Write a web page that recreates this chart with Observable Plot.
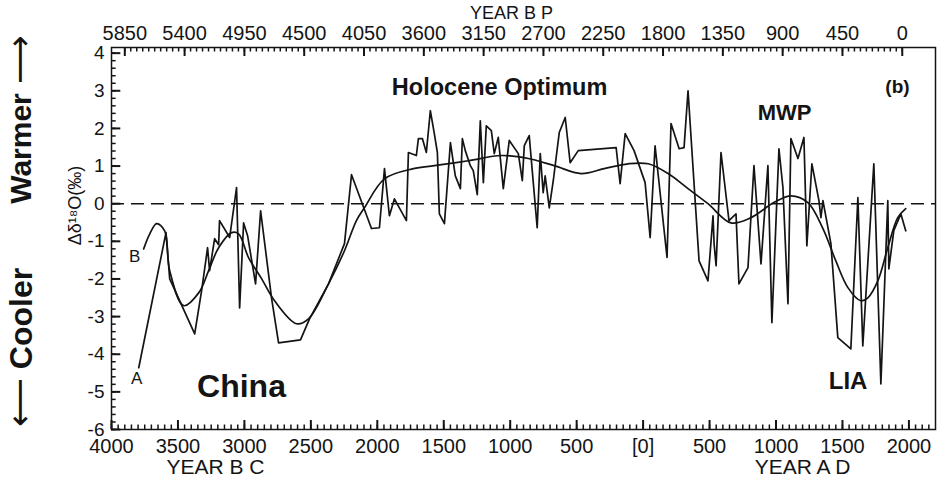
<!DOCTYPE html>
<html><head><meta charset="utf-8">
<script src="https://cdn.jsdelivr.net/npm/d3@7"></script>
<script src="https://cdn.jsdelivr.net/npm/@observablehq/plot@0.6"></script>
<style>
html,body{margin:0;padding:0;background:#fff;}
</style>
</head><body><div id="chart"></div>
<script>
// Curve A: raw record (years, negative = BC)
const yearsA = [-3795,-3590,-3562,-3374,-3322,-3277,-3262,-3224,-3194,-3187,-3111,-3059,-3036,-3006,-2976,-2916,-2878,-2796,-2743,-2578,-2510,-2367,-2247,-2194,-2044,-1984,-1946,-1909,-1871,-1834,-1781,-1766,-1706,-1691,-1661,-1631,-1601,-1571,-1548,-1533,-1495,-1450,-1413,-1375,-1360,-1338,-1300,-1278,-1248,-1225,-1202,-1180,-1142,-1120,-1090,-1052,-1007,-939,-909,-894,-857,-797,-774,-752,-737,-706,-676,-631,-586,-549,-488,-203,-173,-135,-68,15,53,90,180,210,271,308,338,421,488,526,534,549,586,646,699,721,789,834,887,939,969,1022,1052,1090,1112,1165,1210,1232,1270,1323,1338,1353,1413,1465,1563,1616,1653,1736,1789,1841,1849,1886,1939,1976];
const valuesA = [-4.36,-0.77,-2.0,-3.46,-2.31,-1.17,-1.78,-0.93,-1.09,-0.45,-0.90,0.43,-2.77,-0.51,-0.85,-2.13,-0.19,-2.5,-3.70,-3.62,-3.06,-2.13,-1.06,0.77,-0.66,-0.64,0.93,-0.32,0.13,-0.11,-0.45,1.36,1.28,1.73,1.73,1.36,2.47,1.86,1.36,-0.27,-0.53,1.62,0.74,0.40,1.73,1.41,1.01,0.88,0.24,2.2,0.56,2.07,1.94,1.33,1.76,0.40,1.68,1.33,0.61,1.54,1.81,-0.64,1.33,0.29,0.74,-0.11,0.61,1.89,2.29,1.09,1.41,1.49,0.53,1.86,1.41,0.56,-0.90,1.54,-1.43,2.13,1.46,1.49,3.0,-1.52,-2.05,-0.32,-1.06,-1.65,1.36,-0.45,-0.27,-2.13,-1.70,1.01,-1.60,1.01,-3.16,1.46,0.43,-2.66,1.73,1.20,1.76,-1.12,1.06,0.08,-0.37,0.08,-1.06,-3.56,-3.86,0.16,-3.78,1.06,-4.79,0.08,-1.73,-0.72,-0.27,-0.72];
// Curve B: smoothed record
const yearsB = [-3758,-3712,-3660,-3600,-3562,-3457,-3344,-3269,-3194,-3096,-3044,-2968,-2871,-2773,-2608,-2518,-2367,-2247,-2157,-2097,-1946,-1728,-1571,-1315,-1067,-864,-669,-466,-293,-113,38,188,338,488,661,812,984,1112,1240,1353,1450,1541,1638,1691,1766,1841,1916,1976];
const valuesB = [-1.2,-0.8,-0.53,-0.72,-1.78,-2.71,-2.37,-1.78,-1.17,-0.77,-0.80,-1.44,-1.99,-2.58,-3.19,-3.06,-2.13,-1.25,-0.45,-0.11,0.66,0.93,1.01,1.14,1.28,1.20,1.01,0.80,0.93,1.06,1.06,0.80,0.40,0.0,-0.51,-0.37,0.03,0.21,0.03,-0.66,-1.52,-2.23,-2.58,-2.50,-2.05,-1.17,-0.37,-0.13];
// Tick values
const yearTicks = d3.range(-4000, 2001, 500);
const yearMinor = d3.range(-4000, 2151, 50);
const bpTicks = d3.range(0, 5851, 450);
const bpMinor = d3.range(0, 5851, 45);
const yTicks = d3.range(-6, 4.01, 1);
const yMinor = d3.range(-6, 4.15, 0.2);

const seriesA = yearsA.map((x, i) => ({x, y: valuesA[i]}));
const seriesB = yearsB.map((x, i) => ({x, y: valuesB[i]}));
const font = "'Liberation Sans', Arial, Helvetica, sans-serif";
const ink = "#141414";
const T = d => d;

const chart = Plot.plot({
  width: 939, height: 477,
  marginLeft: 111, marginRight: 4, marginTop: 47, marginBottom: 48,
  style: {fontFamily: font, background: "white"},
  x: {domain: [-4000, 2200]},
  y: {domain: [-6, 4.15]},
  marks: [
    Plot.ruleY([0], {stroke: ink, strokeDasharray: "13,7", strokeWidth: 1.5}),
    Plot.line(seriesA, {x: "x", y: "y", stroke: ink, strokeWidth: 1.7, strokeLinejoin: "round"}),
    Plot.line(seriesB, {x: "x", y: "y", curve: "catmull-rom", stroke: ink, strokeWidth: 1.7}),
    // inward tick marks (rules from the frame edge)
    Plot.ruleX(yearTicks, {x: T, y1: -6, y2: -5.76, stroke: ink, strokeWidth: 2}),
    Plot.ruleX(yearMinor, {x: T, y1: -6, y2: -5.88, stroke: ink, strokeWidth: 1.5}),
    Plot.ruleX(bpTicks.map(b => 1950 - b), {x: T, y1: 4.15, y2: 3.91, stroke: ink, strokeWidth: 2}),
    Plot.ruleX(bpMinor.map(b => 1950 - b), {x: T, y1: 4.15, y2: 4.03, stroke: ink, strokeWidth: 1.5}),
    Plot.ruleY(yTicks, {y: T, x1: -4000, x2: -3930, stroke: ink, strokeWidth: 2}),
    Plot.ruleY(yMinor, {y: T, x1: -4000, x2: -3965, stroke: ink, strokeWidth: 1.5}),
    // axis labels
    Plot.axisX(yearTicks, {anchor: "bottom", tickSize: 0, tickPadding: 9, fontSize: 20, label: null, fill: ink,
      tickFormat: d => d === 0 ? "[0]" : String(Math.abs(d))}),
    Plot.axisX(bpTicks.map(b => 1950 - b), {anchor: "top", tickSize: 0, tickPadding: 8, fontSize: 20, label: null, fill: ink,
      tickFormat: d => String(1950 - d)}),
    Plot.axisY(yTicks, {anchor: "left", tickSize: 0, tickPadding: 7, fontSize: 19, label: null, fill: ink,
      tickFormat: d => String(d)}),
    Plot.frame({stroke: ink, strokeWidth: 1.5}),
    // annotations
    Plot.text(["Holocene Optimum"], {x: -1080, y: 3.09, text: T, fill: ink, fontSize: 23.5, fontWeight: "bold"}),
    Plot.text(["(b)"], {x: 1914, y: 3.11, text: T, fill: ink, fontSize: 19, fontWeight: "bold"}),
    Plot.text(["MWP"], {x: 1064, y: 2.42, text: T, fill: ink, fontSize: 22, fontWeight: "bold"}),
    Plot.text(["China"], {x: -3022, y: -4.87, text: T, fill: ink, fontSize: 32, fontWeight: "bold"}),
    Plot.text(["LIA"], {x: 1542, y: -4.71, text: T, fill: ink, fontSize: 24, fontWeight: "bold"}),
    Plot.text(["A"], {x: -3811, y: -4.65, text: T, fill: ink, fontSize: 17}),
    Plot.text(["B"], {x: -3826, y: -1.41, text: T, fill: ink, fontSize: 17}),
    // axis titles
    Plot.text(["YEAR B P"], {frameAnchor: "top", dx: -12, dy: -34, lineAnchor: "middle", textAnchor: "middle", text: T, fill: ink, fontSize: 18}),
    Plot.text(["YEAR B C"], {frameAnchor: "bottom", dx: -308, dy: 38, lineAnchor: "middle", textAnchor: "middle", text: T, fill: ink, fontSize: 21}),
    Plot.text(["YEAR A D"], {frameAnchor: "bottom", dx: 279, dy: 38, lineAnchor: "middle", textAnchor: "middle", text: T, fill: ink, fontSize: 21}),
    Plot.text(["Δδ¹⁸O(‰)"], {frameAnchor: "left", dx: -36, dy: -33, rotate: -90, textAnchor: "middle", lineAnchor: "middle", text: T, fill: ink, fontSize: 18}),
    Plot.text(["Warmer"], {frameAnchor: "left", dx: -90, dy: -90, rotate: -90, textAnchor: "middle", lineAnchor: "middle", text: T, fill: ink, fontSize: 30, fontWeight: "bold"}),
    Plot.text(["Cooler"], {frameAnchor: "left", dx: -90, dy: 80, rotate: -90, textAnchor: "middle", lineAnchor: "middle", text: T, fill: ink, fontSize: 32, fontWeight: "bold"}),
    Plot.text(["⟶"], {frameAnchor: "left", dx: -91, dy: -179, rotate: -90, textAnchor: "middle", lineAnchor: "middle", text: T, fill: ink, fontSize: 34, fontFamily: "DejaVu Sans"}),
    Plot.text(["⟵"], {frameAnchor: "left", dx: -91, dy: 164, rotate: -90, textAnchor: "middle", lineAnchor: "middle", text: T, fill: ink, fontSize: 34, fontFamily: "DejaVu Sans"})
  ]
});
document.getElementById("chart").appendChild(chart);
</script>
</body></html>
